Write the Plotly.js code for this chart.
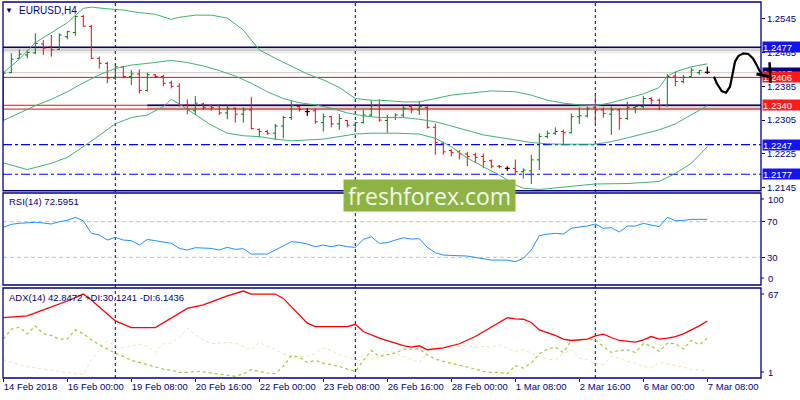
<!DOCTYPE html>
<html>
<head>
<meta charset="utf-8">
<script src="https://cdn.plot.ly/plotly-3.0.1.min.js"></script>
<style>body{margin:0;background:#fff}#chart{width:800px;height:400px}</style>
</head>
<body>
<div id="chart"></div>
<script>
// EURUSD H4, 14 Feb 16:00 .. 7 Mar 08:00 (one bar every 4 hours)
var open = [1.2329,1.2417,1.2451,1.2459,1.2464,1.2485,1.2478,1.2472,1.2502,1.2512,
  1.2550,1.2526,1.2451,1.2439,1.2404,1.2431,1.2408,1.2414,1.2375,1.2412,
  1.2408,1.2393,1.2385,1.2341,1.2327,1.2343,1.2339,1.2339,1.2322,1.2333,
  1.2319,1.2329,1.2283,1.2278,1.2274,1.2291,1.2311,1.2337,1.2325,1.2327,
  1.2299,1.2313,1.2296,1.2304,1.2293,1.2299,1.2317,1.2339,1.2304,1.2311,
  1.2317,1.2337,1.2329,1.2335,1.2288,1.2250,1.2233,1.2230,1.2225,1.2223,
  1.2219,1.2209,1.2196,1.2191,1.2191,1.2183,1.2185,1.2211,1.2266,1.2274,
  1.2278,1.2275,1.2313,1.2315,1.2335,1.2329,1.2319,1.2329,1.2309,1.2335,
  1.2337,1.2356,1.2352,1.2339,1.2409,1.2396,1.2408,1.2417,1.2418];
var high = [1.2419,1.2463,1.2472,1.2471,1.2510,1.2494,1.2506,1.2510,1.2516,1.2553,
  1.2553,1.2530,1.2455,1.2443,1.2435,1.2433,1.2423,1.2425,1.2417,1.2414,
  1.2412,1.2398,1.2392,1.2354,1.2362,1.2346,1.2343,1.2343,1.2340,1.2335,
  1.2335,1.2360,1.2285,1.2282,1.2296,1.2315,1.2352,1.2339,1.2333,1.2333,
  1.2321,1.2315,1.2319,1.2305,1.2301,1.2329,1.2352,1.2354,1.2317,1.2321,
  1.2339,1.2341,1.2349,1.2339,1.2297,1.2254,1.2236,1.2234,1.2230,1.2228,
  1.2226,1.2212,1.2199,1.2196,1.2212,1.2191,1.2223,1.2274,1.2280,1.2288,
  1.2282,1.2321,1.2335,1.2337,1.2364,1.2335,1.2337,1.2333,1.2349,1.2341,
  1.2362,1.2359,1.2356,1.2414,1.2419,1.2412,1.2429,1.2423,1.2431];
var low = [1.2301,1.2416,1.2449,1.2451,1.2461,1.2459,1.2455,1.2471,1.2496,1.2504,
  1.2526,1.2449,1.2427,1.2392,1.2400,1.2404,1.2388,1.2368,1.2372,1.2404,
  1.2385,1.2380,1.2337,1.2319,1.2319,1.2329,1.2327,1.2317,1.2307,1.2299,
  1.2299,1.2283,1.2264,1.2270,1.2258,1.2262,1.2305,1.2325,1.2315,1.2296,
  1.2278,1.2288,1.2282,1.2288,1.2278,1.2297,1.2313,1.2301,1.2275,1.2305,
  1.2311,1.2321,1.2317,1.2285,1.2223,1.2223,1.2219,1.2212,1.2196,1.2203,
  1.2191,1.2191,1.2191,1.2185,1.2178,1.2167,1.2154,1.2187,1.2262,1.2270,
  1.2246,1.2274,1.2296,1.2311,1.2297,1.2311,1.2270,1.2282,1.2305,1.2321,
  1.2333,1.2341,1.2329,1.2337,1.2385,1.2392,1.2408,1.2412,1.2414];
var close = [1.2416,1.2449,1.2461,1.2465,1.2486,1.2475,1.2471,1.2506,1.2514,1.2550,
  1.2527,1.2451,1.2439,1.2404,1.2431,1.2408,1.2414,1.2375,1.2412,1.2408,
  1.2392,1.2385,1.2341,1.2329,1.2345,1.2335,1.2335,1.2322,1.2333,1.2319,
  1.2329,1.2285,1.2278,1.2274,1.2291,1.2311,1.2339,1.2330,1.2325,1.2301,
  1.2313,1.2296,1.2309,1.2293,1.2299,1.2317,1.2339,1.2305,1.2311,1.2317,
  1.2333,1.2329,1.2337,1.2288,1.2252,1.2230,1.2228,1.2225,1.2219,1.2217,
  1.2207,1.2196,1.2195,1.2191,1.2183,1.2187,1.2211,1.2266,1.2274,1.2278,
  1.2275,1.2313,1.2315,1.2333,1.2329,1.2321,1.2329,1.2309,1.2335,1.2337,
  1.2356,1.2352,1.2339,1.2408,1.2396,1.2406,1.2423,1.2422,1.2418];

// Bollinger bands (read at selected bars)
var upIdx = [0,2,4,6,8,10,11,13,15,17,19,21,22,24,26,28,30,31,32,34,36,38,40,42,44,46,48,50,52,54,56,58,61,64,66,68,70,72,74,76,78,80,82,83,84,86,88];
var upVal = [1.2417,1.2449,1.2488,1.2512,1.2535,1.2569,1.2572,1.2568,1.2565,1.2559,1.2555,1.2543,1.2548,1.2553,1.2553,1.2546,1.2518,1.2494,1.2471,1.2451,1.2433,1.2414,1.2400,1.2382,1.2356,1.2352,1.2351,1.2348,1.2348,1.2356,1.2364,1.2368,1.2374,1.2372,1.2364,1.2352,1.2345,1.2341,1.2339,1.2346,1.2356,1.2367,1.2382,1.2409,1.2419,1.2431,1.2438];
var midIdx = [0,2,4,6,8,10,12,14,16,18,20,21,23,25,27,29,31,33,35,37,39,41,43,45,47,50,52,54,56,58,60,62,64,66,68,70,74,76,78,80,82,84,86,88];
var midVal = [1.2304,1.2321,1.2339,1.2354,1.2372,1.2393,1.2412,1.2427,1.2435,1.2439,1.2443,1.2446,1.2441,1.2433,1.2422,1.2409,1.2392,1.2372,1.2356,1.2346,1.2341,1.2333,1.2322,1.2315,1.2311,1.2311,1.2307,1.2301,1.2291,1.2280,1.2270,1.2264,1.2258,1.2252,1.2249,1.2248,1.2248,1.2254,1.2263,1.2272,1.2282,1.2296,1.2317,1.2339];
var lowIdx = [0,3,6,8,10,12,14,16,18,20,21,22,24,26,28,30,32,34,36,38,40,42,44,46,49,52,54,56,58,60,62,64,65,67,70,74,78,82,84,86,88];
var lowVal = [1.2204,1.2188,1.2203,1.2217,1.2242,1.2270,1.2296,1.2311,1.2317,1.2337,1.2354,1.2343,1.2317,1.2293,1.2274,1.2268,1.2266,1.2260,1.2256,1.2258,1.2260,1.2266,1.2272,1.2274,1.2274,1.2272,1.2262,1.2242,1.2215,1.2195,1.2175,1.2152,1.2144,1.2141,1.2146,1.2154,1.2155,1.2160,1.2179,1.2203,1.2242];

// RSI(14)
var rsi = [63.6,67,68.2,69,69.3,68.5,67.4,70,71.5,74.9,
  71,56.9,55,49.4,52.4,49.4,48.7,43.8,50.1,48.7,
  46.8,45.7,40,38.2,40.8,40,40,38.2,41.2,38.9,
  39.7,33.7,33.7,33.7,38.2,42.7,47.5,46.8,44.9,41.9,
  43.8,41.9,43.8,41.9,41.2,50.1,53.1,45.7,46.4,49.4,
  52,50.5,50.9,41.2,35.2,32.5,32.2,31.8,31.4,29.9,
  28.8,26.9,26.9,26.9,25.1,28.8,38.2,54.3,56.1,56.9,
  56.1,62.5,64,65.1,67.4,62.5,63.3,58.4,65.1,65.1,
  68.1,66.6,64.4,74.9,71.1,71.5,72.6,72.6,72.6];

// ADX(14)
var adxIdx = [0,3,5,8,10,11,14,16,19,21,23,25,28,30,31,34,35,38,39,43,44,45,47,50,51,52,53,55,57,59,61,63,64,65,66,67,69,70,71,73,74,75,76,77,79,80,81,82,83,84,85,86,87,88];
var adxVal = [45.3,46.5,50.9,57.5,62.6,58.2,42.9,38,38,44.8,52.1,54.6,61.2,64.8,62.6,62.6,59.4,41.2,38.7,38.7,40.4,35.1,30.2,24.8,23.6,24.6,21.7,23.1,26.1,31.4,38.2,45.3,44.3,44.1,41.7,36.3,32.2,29.5,28.5,29.5,31.9,33.1,30.7,28.5,27.3,29,31.4,29.5,30.2,31.4,33.4,36.3,39.2,42.8];
var plusDI = [29.5,36.8,38.2,33.4,39.2,33.4,32.2,29.5,29.5,36.3,
  33.4,29,25.3,22.2,19.2,16.8,13.9,12.4,10.7,9,
  7.5,6.6,5.1,5.1,5.8,5.4,4.6,4.1,3.4,2.2,
  3.9,7.1,5.8,4.6,4.1,9.5,17.3,16.3,12.4,13.9,
  11.9,10.7,9.5,7.5,5.8,13.9,21.2,16.8,18,19.2,
  22.2,22.2,22.2,18,14.9,13.1,11.9,10.7,9,7.5,
  5.8,5.1,5.1,4.1,10,8.3,11.9,18.8,22.2,23.6,
  19.7,28.5,28.5,29.5,29,24.1,19.7,21.2,21.7,19.7,
  26.1,24.6,20.4,26.6,26.1,22.2,28.5,25.3,30.1];
var minusDI = [14.4,12.4,10.7,9.5,8.3,7.5,6.6,5.8,5.1,4.6,
  3.4,14.4,21.7,27.8,24.6,22.9,24.6,25.8,24.1,19.7,
  26.1,26.6,30.9,37.5,32.6,29,26.1,26.6,27,26.6,
  24.1,21.7,27,24.6,21.7,18.8,16.3,16.8,16.8,19.2,
  22.9,21.2,18,16.8,13.9,18,14.9,15.6,21.2,19.2,
  16.8,14.4,12.4,19.7,27,24.1,24.6,24.1,24.6,23.6,
  24.1,23.6,25.3,22.9,20.4,21.7,19.2,16.8,14.9,14.4,
  18.8,21.7,15.6,14.4,11.4,10.7,16.8,15.6,13.1,11.9,
  9.5,8.3,12.4,11.4,10,9,7.1,7.1,6.1];

// axis labels
var timeTickIdx = [0,8,16,24,32,40,48,56,64,72,80,88];
var timeTickText = ['14 Feb 2018','16 Feb 00:00','19 Feb 08:00','20 Feb 16:00','22 Feb 00:00','23 Feb 08:00',
  '26 Feb 16:00','28 Feb 00:00','1 Mar 08:00','2 Mar 16:00','6 Mar 00:00','7 Mar 08:00'];
var priceTicks = [1.2545,1.2465,1.2385,1.2305,1.2225,1.2145];
var rsiTicks = [70,30];
var rsiEdgeLabels = ['100','0'];
var adxEdgeLabels = ['67','1'];
var weekStartIdx = [14,44,74];

// drawn levels
var blueSolidLevel = 1.2477;
var blueDashLevels = [1.2247,1.2177];
var redLevels = [1.2406,1.2340,1.2331];
var bidPrice = 1.2417;
var zoneLevel = 1.2340, zoneStartIdx = 18;
var priceBoxes = [1.2417,1.2406,1.2340,1.2477,1.2247,1.2177];
var priceBoxColors = ['#000080','#ff1a1a','#ff1a1a','#1414f0','#1414f0','#1414f0'];

var NAVY = '#000080';
var FONT = 'Liberation Sans, Arial, sans-serif';
var PX = function (px) { return (px - 3) / 758; };
var PY = function (py) { return (378 - py) / 376; };

var idx = close.map(function (c, i) { return i; });
var dIdx = idx.filter(function (i) { return open[i] === close[i]; });

var traces = [
  { type: 'ohlc', x: idx, open: open, high: high, low: low, close: close,
    increasing: { line: { color: '#008000', width: 1 } },
    decreasing: { line: { color: '#ff0000', width: 1 } },
    tickwidth: 0.3, hoverinfo: 'skip', xaxis: 'x', yaxis: 'y' },
  { type: 'ohlc', x: dIdx,
    open: dIdx.map(function (i) { return open[i]; }), high: dIdx.map(function (i) { return high[i]; }),
    low: dIdx.map(function (i) { return low[i]; }), close: dIdx.map(function (i) { return close[i]; }),
    increasing: { line: { color: '#000', width: 1 } }, decreasing: { line: { color: '#000', width: 1 } },
    tickwidth: 0.3, hoverinfo: 'skip', xaxis: 'x', yaxis: 'y' },
  { type: 'scatter', mode: 'lines', x: upIdx, y: upVal, line: { color: '#3cb371', width: 1 }, hoverinfo: 'skip' },
  { type: 'scatter', mode: 'lines', x: midIdx, y: midVal, line: { color: '#3cb371', width: 1 }, hoverinfo: 'skip' },
  { type: 'scatter', mode: 'lines', x: lowIdx, y: lowVal, line: { color: '#3cb371', width: 1 }, hoverinfo: 'skip' },
  { type: 'scatter', mode: 'lines', x: idx, y: rsi, yaxis: 'y2', line: { color: '#1e90ff', width: 1 }, hoverinfo: 'skip' },
  { type: 'scatter', mode: 'lines', x: idx, y: minusDI, yaxis: 'y3', line: { color: '#f5deb3', width: 1, dash: 'dot' }, hoverinfo: 'skip' },
  { type: 'scatter', mode: 'lines', x: idx, y: plusDI, yaxis: 'y3', line: { color: '#9acd32', width: 1.2, dash: 'dot' }, hoverinfo: 'skip' },
  { type: 'scatter', mode: 'lines', x: adxIdx, y: adxVal, yaxis: 'y3', line: { color: '#ff0000', width: 1.3 }, hoverinfo: 'skip' }
];

var shapes = [];
function hline(y, color, width, dash, x0, xref) {
  shapes.push({ type: 'line', xref: xref || 'paper', yref: 'y', x0: x0 === undefined ? 0 : x0, x1: xref ? 94.71 : 1,
    y0: y, y1: y, line: { color: color, width: width, dash: dash || 'solid' }, layer: 'below' });
}
// shadows under the solid blue levels
hline(blueSolidLevel - 0.0005, 'rgba(0,0,0,0.16)', 3);
hline(blueSolidLevel - 0.0011, 'rgba(0,0,0,0.07)', 3);
hline(zoneLevel - 0.0005, 'rgba(0,0,0,0.16)', 3, null, zoneStartIdx, 'x');
hline(zoneLevel - 0.0011, 'rgba(0,0,0,0.07)', 3, null, zoneStartIdx, 'x');
hline(bidPrice, '#c8c8c8', 1);
redLevels.forEach(function (v) { hline(v, '#ff0000', 1); });
hline(blueSolidLevel, NAVY, 1.5);
hline(zoneLevel, NAVY, 1.5, null, zoneStartIdx, 'x');
blueDashLevels.forEach(function (v) { hline(v, '#0000ff', 1.2, 'dashdot'); });
rsiTicks.forEach(function (v) {
  shapes.push({ type: 'line', xref: 'paper', yref: 'y2', x0: 0, x1: 1, y0: v, y1: v,
    line: { color: '#c0c0c0', width: 1, dash: '4px,3px' }, layer: 'below' });
});
weekStartIdx.forEach(function (i) {
  shapes.push({ type: 'line', xref: 'x', yref: 'paper', x0: i, x1: i, y0: 0, y1: 1,
    line: { color: NAVY, width: 1, dash: '3px,3px' }, layer: 'below' });
});
// panel frames
[[0.498, 1], [0.2473, 0.492], [0, 0.2394]].forEach(function (d) {
  shapes.push({ type: 'rect', xref: 'paper', yref: 'paper', x0: 0, x1: 1, y0: d[0], y1: d[1],
    line: { color: NAVY, width: 1.3 }, fillcolor: 'rgba(0,0,0,0)' });
});
// short ticks next to the inset edge labels of the lower panels
[199, 278, 294, 372].forEach(function (py) {
  shapes.push({ type: 'line', xref: 'paper', yref: 'paper', x0: 1, x1: PX(764), y0: PY(py), y1: PY(py),
    line: { color: NAVY, width: 1 } });
});
// freehand forecast sketch
var sketchPx = [[714,76.7],[716.7,83.3],[721.7,91],[726,92.7],[730,86.7],[732.7,73.3],[735,61.7],[738.3,56],
  [743.3,53.3],[748.3,54],[752.7,58.3],[756.7,65],[760,71.7],[764,76],[770,80]];
shapes.push({ type: 'path', xref: 'paper', yref: 'paper',
  path: sketchPx.map(function (p, k) { return (k ? 'L' : 'M') + PX(p[0]).toFixed(4) + ',' + PY(p[1]).toFixed(4); }).join(' '),
  line: { color: '#000', width: 2.2 } });

function label(px, py, text, size, anchor) {
  return { xref: 'paper', yref: 'paper', x: PX(px), y: PY(py), xanchor: anchor || 'left', yanchor: 'middle',
    text: text, showarrow: false, font: { family: FONT, size: size, color: NAVY } };
}
var annotations = [
  label(9, 10, '▼', 8, 'center'),
  label(17, 10, 'EURUSD,H4', 10),
  label(7, 201, 'RSI(14) 72.5951', 9.5),
  label(7, 297, 'ADX(14) 42.8472 +DI:30.1241 -DI:6.1436', 9.5),
  { xref: 'paper', yref: 'paper', x: PX(429.5), y: PY(195), xanchor: 'center', yanchor: 'middle',
    text: 'freshforex.com', showarrow: false,
    bgcolor: '#8db443', width: 171, height: 31, borderpad: 0,
    font: { family: 'Open Sans, sans-serif', size: 23, color: '#f4f7ee' } }
];
// inset edge labels of RSI and ADX panels
[[rsiEdgeLabels[0], 199], [rsiEdgeLabels[1], 278], [adxEdgeLabels[0], 294], [adxEdgeLabels[1], 372]].forEach(function (a) {
  annotations.push(label(766, a[1], a[0], 9.5));
});
priceBoxes.forEach(function (v, k) {
  annotations.push({ xref: 'paper', yref: 'y', x: PX(762), y: v, xanchor: 'left', yanchor: 'middle',
    text: v.toFixed(4), showarrow: false, bgcolor: priceBoxColors[k], width: 38, height: 10, borderpad: 0, align: 'left',
    font: { family: FONT, size: 9.5, color: '#fff' } });
});
// arrow head strokes of the sketch, drawn over the price boxes
annotations.push({ xref: 'paper', yref: 'paper', x: PX(770), y: PY(76.7), ax: -15, ay: -3, text: '',
  showarrow: true, arrowhead: 0, arrowwidth: 3, arrowcolor: '#000', standoff: 0 });
annotations.push({ xref: 'paper', yref: 'paper', x: PX(770.5), y: PY(82.7), ax: -1, ay: -22, text: '',
  showarrow: true, arrowhead: 0, arrowwidth: 2.5, arrowcolor: '#000', standoff: 0 });

var yCommon = { side: 'right', anchor: 'x', ticks: 'outside', ticklen: 3, tickcolor: NAVY,
  showgrid: false, zeroline: false, showline: false, fixedrange: true,
  tickfont: { family: FONT, size: 9.5, color: NAVY } };

var layout = {
  width: 800, height: 400,
  margin: { l: 3, r: 39, t: 2, b: 22 },
  paper_bgcolor: '#fff', plot_bgcolor: '#fff',
  showlegend: false,
  xaxis: { range: [-0.04, 94.71], anchor: 'y3', tickvals: timeTickIdx, ticktext: timeTickText,
    tickangle: 0, ticks: 'outside', ticklen: 3, tickcolor: NAVY, ticklabelposition: 'outside right',
    ticklabeloverflow: 'allow', automargin: false,
    tickfont: { family: FONT, size: 9.5, color: NAVY }, showgrid: false, zeroline: false, showline: false,
    rangeslider: { visible: false }, fixedrange: true },
  yaxis: Object.assign({}, yCommon, { domain: [0.498, 1], range: [1.2138, 1.25841],
    tickvals: priceTicks, ticktext: priceTicks.map(function (v) { return v.toFixed(4); }) }),
  yaxis2: Object.assign({}, yCommon, { domain: [0.2473, 0.492], range: [-1.1, 102.2], tickvals: rsiTicks }),
  yaxis3: Object.assign({}, yCommon, { domain: [0, 0.2394], range: [0.95, 67.05], tickvals: [] }),
  shapes: shapes,
  annotations: annotations
};

Plotly.newPlot('chart', traces, layout, { displayModeBar: false, staticPlot: true });
</script>
</body>
</html>
